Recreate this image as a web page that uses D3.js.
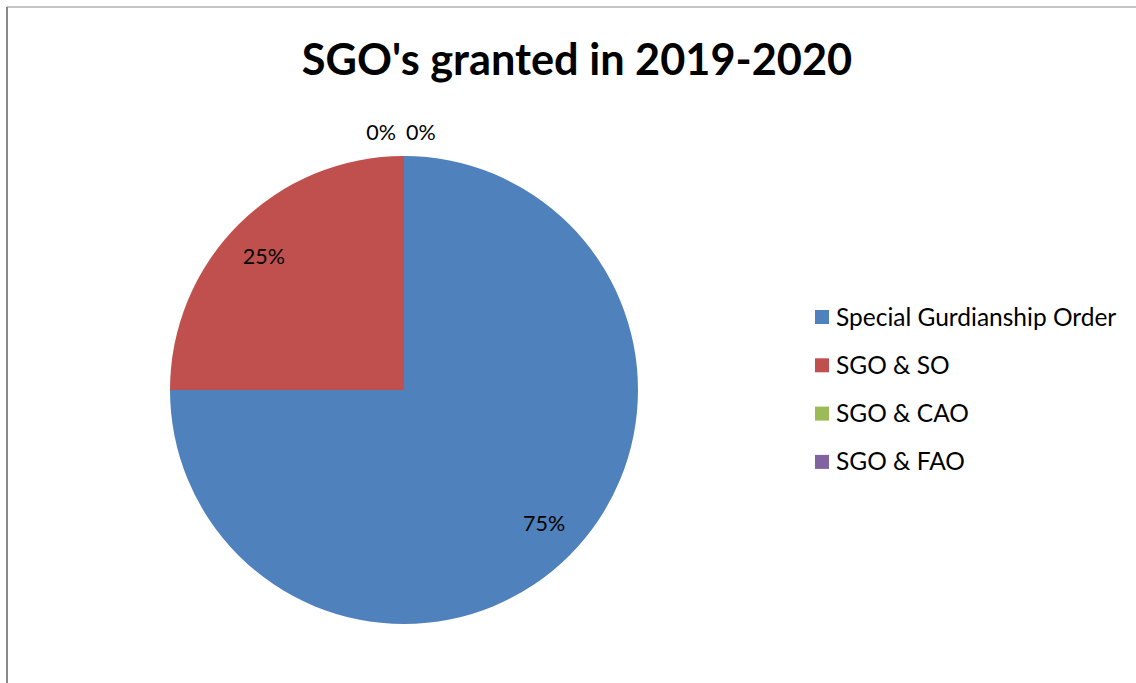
<!DOCTYPE html>
<html>
<head>
<meta charset="utf-8">
<script src="https://cdn.jsdelivr.net/npm/d3@7"></script>
<style>
  body { margin: 0; background: #fff; }
  svg { display: block; font-family: Lato, "Open Sans", sans-serif; }
</style>
</head>
<body>
<svg id="chart" width="1136" height="683"></svg>
<script>
// chart data
const categories = ["Special Gurdianship Order", "SGO & SO", "SGO & CAO", "SGO & FAO"];
const values = [75, 25, 0, 0];
const colours = ["#4F81BD", "#C0504D", "#9BBB59", "#8064A2"];
const title = "SGO's granted in 2019-2020";

const svg = d3.select("#chart");

// frame (only left + top edge visible in the picture)
svg.append("line").attr("x1", 7).attr("y1", 7).attr("x2", 1136).attr("y2", 7)
  .attr("stroke", "#898989").attr("stroke-width", 1);
svg.append("line").attr("x1", 7).attr("y1", 7).attr("x2", 7).attr("y2", 683)
  .attr("stroke", "#898989").attr("stroke-width", 2);

svg.append("text")
  .attr("x", 577).attr("y", 75)
  .attr("text-anchor", "middle")
  .attr("font-size", 43.3).attr("font-weight", "bold")
  .text(title);

const cx = 404, cy = 390, radius = 234;
const g = svg.append("g").attr("transform", "translate(" + cx + "," + cy + ")");

const pie = d3.pie().sort(null).value(d => d.value);
const arcs = pie(categories.map((c, i) => ({ name: c, value: values[i], colour: colours[i] })));

const arc = d3.arc().innerRadius(0).outerRadius(radius);
const labelArc = d3.arc().innerRadius(radius * 0.83).outerRadius(radius * 0.83);

g.selectAll("path.slice")
  .data(arcs)
  .enter().append("path")
    .attr("class", "slice")
    .attr("d", arc)
    .attr("fill", d => d.data.colour);

const total = d3.sum(values);
let zeroCount = 0;
g.selectAll("text.lbl")
  .data(arcs)
  .enter().append("text")
    .attr("class", "lbl")
    .attr("font-size", 21.5)
    .attr("dy", "0.35em")
    .each(function(d) {
      const pct = Math.round(d.data.value / total * 100) + "%";
      let x, y, anchor = "middle";
      if (d.data.value === 0) {
        // zero slices get pushed outside the pie, side by side
        const mid = (d.startAngle + d.endAngle) / 2;
        const r = radius + 24;
        x = r * Math.sin(mid) + (zeroCount === 0 ? -8 : 2);
        y = -r * Math.cos(mid);
        anchor = zeroCount === 0 ? "end" : "start";
        zeroCount++;
      } else {
        [x, y] = labelArc.centroid(d);
        x *= 1.02; y *= 0.97;   // excel nudges these a bit flatter
      }
      d3.select(this).attr("x", x).attr("y", y).attr("text-anchor", anchor).text(pct);
    });

// legend
const legend = svg.append("g").attr("transform", "translate(815,317)");
const item = legend.selectAll("g")
  .data(categories)
  .enter().append("g")
    .attr("transform", (d, i) => "translate(0," + i * 48.3 + ")");
item.append("rect")
  .attr("x", 0).attr("y", -7).attr("width", 14).attr("height", 14)
  .attr("fill", (d, i) => colours[i]);
item.append("text")
  .attr("x", 21).attr("dy", "0.35em")
  .attr("font-size", 24.5)
  .text(d => d);
</script>
</body>
</html>
